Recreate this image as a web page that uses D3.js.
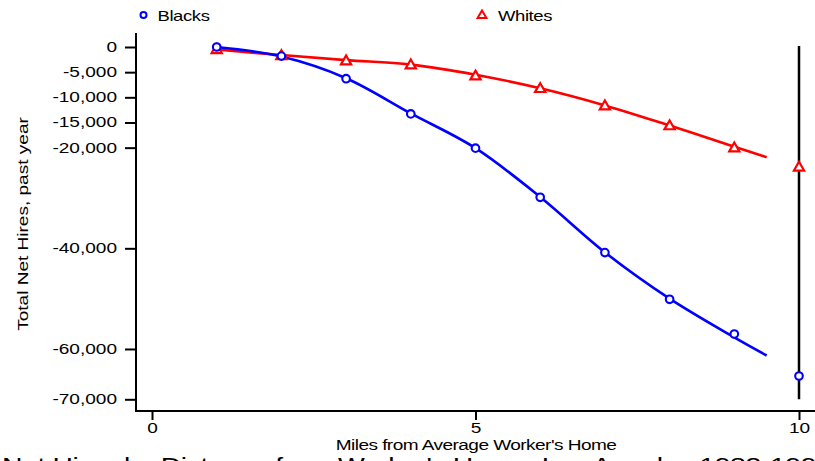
<!DOCTYPE html>
<html>
<head>
<meta charset="utf-8">
<script src="https://cdn.jsdelivr.net/npm/d3@7"></script>
<style>
  html, body { margin: 0; padding: 0; background: #fff; overflow: hidden; }
  svg { display: block; font-family: "Liberation Sans", Arial, sans-serif; }
</style>
</head>
<body>
<svg id="chart" width="815" height="461"></svg>
<script>
// Observed net hires by distance (miles)
const miles = [1, 2, 3, 4, 5, 6, 7, 8, 9, 10];
const blacks = [0, -1800, -6300, -13300, -20100, -29860, -40850, -50130, -57030, -65370];
const whites = [-460, -1650, -2700, -3500, -5700, -8200, -11650, -15600, -20000, -23800];

// Smoothed fit, drawn out to 9.5 miles
const fitMiles = [1, 2, 3, 4, 5, 6, 7, 8, 9, 9.5];
const blacksFit = [0, -1900, -6200, -13200, -20100, -29800, -40800, -50000, -57700, -61300];
const whitesFit = [-500, -1600, -2600, -3500, -5500, -8200, -11600, -15600, -19800, -21900];

const yTicks = [0, -5000, -10000, -15000, -20000, -40000, -60000, -70000];
const xTicks = [0, 5, 10];
const boundaryMile = 10;

const SX = 1.36; // wide lettering
const svg = d3.select("#chart");

const x = d3.scaleLinear().domain([0, 10]).range([152, 799]);
const y = d3.scaleLinear().domain([0, -70000]).range([47, 399.3]);

const fmt = d3.format(",");

function stretch(sel, sx) {
  sel.each(function () {
    const t = d3.select(this);
    const x0 = +t.attr("x") || 0;
    t.attr("x", x0 / sx).attr("transform", `scale(${sx},1)`);
  });
}

// Y axis
const yAxisG = svg.append("g")
  .attr("transform", "translate(136,0)")
  .call(d3.axisLeft(y).tickValues(yTicks).tickFormat(d => fmt(d).replace("−", "-"))
    .tickSizeInner(11).tickSizeOuter(0).tickPadding(8));
yAxisG.select(".domain").attr("d", "M0,33V411").attr("stroke", "#000").attr("stroke-width", 2);
yAxisG.selectAll(".tick line").attr("stroke", "#000").attr("stroke-width", 2);
yAxisG.selectAll(".tick text").attr("font-size", 14).attr("fill", "#000")
  .attr("font-family", "Liberation Sans, Arial, sans-serif");
stretch(yAxisG.selectAll(".tick text"), SX);

// X axis
const xAxisG = svg.append("g")
  .attr("transform", "translate(0,411)")
  .call(d3.axisBottom(x).tickValues(xTicks).tickFormat(d3.format("d"))
    .tickSizeInner(9).tickSizeOuter(0).tickPadding(3));
xAxisG.select(".domain").attr("d", "M135,0H815").attr("stroke", "#000").attr("stroke-width", 2);
xAxisG.selectAll(".tick line").attr("stroke", "#000").attr("stroke-width", 2);
xAxisG.selectAll(".tick text").attr("font-size", 14).attr("fill", "#000")
  .attr("font-family", "Liberation Sans, Arial, sans-serif")
  .attr("transform", `scale(${SX},1)`);

// Axis titles
svg.append("text")
  .attr("transform", `translate(476,450) scale(${SX},1)`)
  .attr("text-anchor", "middle").attr("font-size", 14).attr("letter-spacing", -0.4)
  .text("Miles from Average Worker's Home");

svg.append("text")
  .attr("transform", `translate(28,224) rotate(-90) scale(${SX},1)`)
  .attr("text-anchor", "middle").attr("font-size", 14)
  .text("Total Net Hires, past year");

// Boundary line at 10 miles
svg.append("line")
  .attr("x1", x(boundaryMile)).attr("x2", x(boundaryMile))
  .attr("y1", y(0) - 1).attr("y2", y(-70000))
  .attr("stroke", "#000").attr("stroke-width", 2.5);

const line = d3.line().x(d => x(d[0])).y(d => y(d[1])).curve(d3.curveCatmullRom.alpha(0.5));

const series = [
  { name: "Whites", color: "#ff0000", obs: whites, fit: whitesFit, shape: "tri" },
  { name: "Blacks", color: "#0000ff", obs: blacks, fit: blacksFit, shape: "circ" }
];

series.forEach(s => {
  svg.append("path")
    .datum(d3.zip(fitMiles, s.fit))
    .attr("d", line)
    .attr("fill", "none").attr("stroke", s.color).attr("stroke-width", 2.6);
});

const triSym = d3.symbol().type(d3.symbolTriangle).size(45);

function drawMarker(g, shape, color, cx, cy) {
  if (shape === "circ") {
    g.append("circle").attr("cx", cx).attr("cy", cy).attr("r", 3.8)
      .attr("fill", "#fff").attr("stroke", color).attr("stroke-width", 2.1);
  } else {
    g.append("path").attr("d", triSym())
      .attr("transform", `translate(${cx},${cy + 0.8})`)
      .attr("fill", "#fff").attr("stroke", color).attr("stroke-width", 2.2);
  }
}

series.forEach(s => {
  const g = svg.append("g");
  miles.forEach((m, i) => drawMarker(g, s.shape, s.color, x(m), y(s.obs[i])));
});

// Legend
const legend = [
  { name: "Blacks", color: "#0000ff", shape: "circ", mx: 143.5, tx: 157.5 },
  { name: "Whites", color: "#ff0000", shape: "tri", mx: 482, tx: 498 }
];
legend.forEach(l => {
  const g = svg.append("g");
  if (l.shape === "circ") {
    g.append("circle").attr("cx", l.mx).attr("cy", 15).attr("r", 3)
      .attr("fill", "#fff").attr("stroke", l.color).attr("stroke-width", 2);
  } else {
    g.append("path").attr("d", d3.symbol().type(d3.symbolTriangle).size(34)())
      .attr("transform", `translate(${l.mx},15.5)`)
      .attr("fill", "#fff").attr("stroke", l.color).attr("stroke-width", 2);
  }
  g.append("text").attr("transform", `translate(${l.tx},20.5) scale(${SX - 0.04},1)`)
    .attr("font-size", 14).attr("letter-spacing", -0.3).text(l.name);
});

// Chart caption, mostly below the visible area
const cap = svg.append("text")
  .attr("font-size", 22)
  .attr("letter-spacing", -0.3)
  .text("Net Hires by Distance from Worker's Home, Los Angeles 1983-1990");
const capLen = cap.node().getComputedTextLength();
const capSx = 830 / capLen;
cap.attr("transform", `translate(2,472.5) scale(${capSx},1)`);
</script>
</body>
</html>
